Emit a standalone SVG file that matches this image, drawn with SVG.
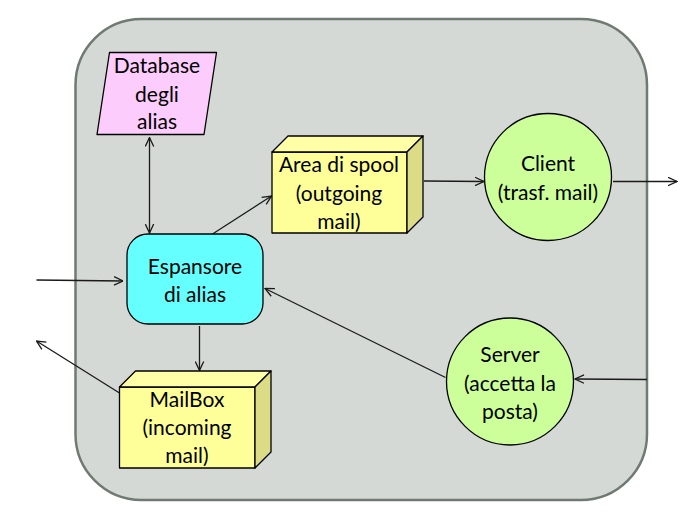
<svg xmlns="http://www.w3.org/2000/svg" width="699" height="521" viewBox="0 0 699 521">
<defs>
<style>
text{font-family:Lato,"Liberation Sans","Noto Sans",sans-serif;font-size:21px;fill:#000;text-anchor:middle}
.sh{stroke:#000;stroke-width:1.3;stroke-linejoin:round}
.cf{fill:#ffff99}
.ct{fill:#ffffa8}
.cs{fill:#dcdc86}
.ci{fill:#ccff99}
.ln{stroke:#1a1a1a;stroke-width:1.3;fill:none}
</style>
<marker id="ah" viewBox="0 0 10 10" refX="9.5" refY="5" markerWidth="10" markerHeight="10" markerUnits="userSpaceOnUse" orient="auto-start-reverse">
<path d="M0.5,0.8 L9.5,5 L0.5,9.2" fill="none" stroke="#1a1a1a" stroke-width="1.3"/>
</marker>
</defs>
<rect id="container" x="75.5" y="19" width="571.5" height="481" rx="66" ry="66" fill="#d4d9d5" stroke="#6f7a73" stroke-width="2.5"/>

<g id="connectors">
<line class="ln" x1="149.5" y1="137.5" x2="149.5" y2="233" marker-start="url(#ah)" marker-end="url(#ah)"/>
<line class="ln" x1="212.5" y1="234" x2="271.5" y2="196" marker-end="url(#ah)"/>
<line class="ln" x1="424" y1="181" x2="484" y2="181.5" marker-end="url(#ah)"/>
<line class="ln" x1="613" y1="181.5" x2="677" y2="181.5" marker-end="url(#ah)"/>
<line class="ln" x1="36.5" y1="280" x2="123" y2="281" marker-end="url(#ah)"/>
<line class="ln" x1="199.5" y1="326" x2="199.5" y2="370.5" marker-end="url(#ah)"/>
<line class="ln" x1="119.5" y1="393" x2="36.5" y2="341" marker-end="url(#ah)"/>
<line class="ln" x1="647" y1="379.5" x2="575" y2="379" marker-end="url(#ah)"/>
<line class="ln" x1="445.5" y1="377.5" x2="265" y2="288.5" marker-end="url(#ah)"/>
</g>

<g id="database">
<polygon class="sh" points="109.5,52.5 216.5,52.5 204,134.5 97,134.5" fill="#fccdfc"/>
<text x="157" y="73">Database</text>
<text x="157" y="101.5">degli</text>
<text x="157" y="129">alias</text>
</g>

<g id="spool">
<rect class="sh cf" x="272" y="152" width="135" height="81"/>
<polygon class="sh ct" points="272,152 288,136 423,136 407,152"/>
<polygon class="sh cs" points="407,152 423,136 423,217 407,233"/>
<text x="339" y="172">Area di spool</text>
<text x="339" y="201">(outgoing</text>
<text x="339" y="229">mail)</text>
</g>

<g id="espansore">
<rect class="sh" x="127" y="234" width="136" height="90" rx="21" ry="21" fill="#66ffff"/>
<text x="195" y="273.5">Espansore</text>
<text x="195" y="302">di alias</text>
</g>

<g id="mailbox">
<rect class="sh cf" x="119.5" y="387" width="135.5" height="81"/>
<polygon class="sh ct" points="119.5,387 135.5,371 271,371 255,387"/>
<polygon class="sh cs" points="255,387 271,371 271,452 255,468"/>
<text x="187" y="407">MailBox</text>
<text x="187" y="435">(incoming</text>
<text x="187" y="463">mail)</text>
</g>

<g id="client">
<circle class="sh ci" cx="548" cy="177" r="63.5"/>
<text x="548" y="171">Client</text>
<text x="548" y="200">(trasf. mail)</text>
</g>

<g id="server">
<circle class="sh ci" cx="510" cy="381.5" r="63.5"/>
<text x="510" y="362">Server</text>
<text x="510" y="390.5">(accetta la</text>
<text x="510" y="418.5">posta)</text>
</g>
</svg>
